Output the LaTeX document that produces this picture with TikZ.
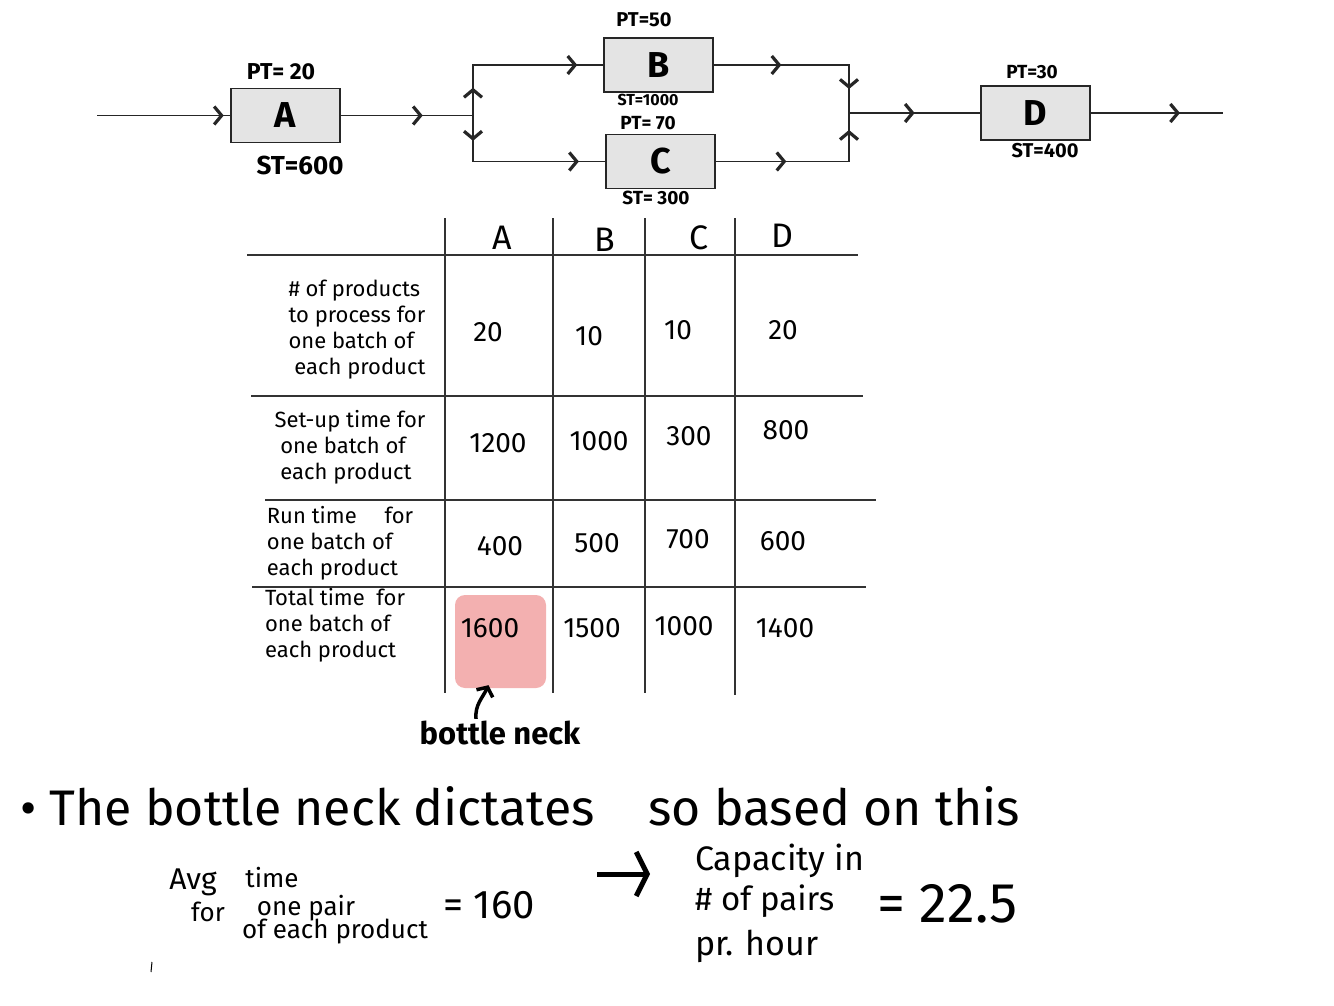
\documentclass[tikz,border=0pt]{standalone}
\usepackage{fontspec}
\setmainfont{Fira Sans}
\usetikzlibrary{arrows.meta,decorations.markings,calc}
\definecolor{hlpink}{RGB}{243,176,176}
\definecolor{boxgray}{RGB}{228,228,228}
\begin{document}
\begin{tikzpicture}[x=1pt,y=-1pt,
  proc/.style={draw=black!85,line width=1.3pt,fill=boxgray,minimum width=109pt,minimum height=54pt,inner sep=0pt,font=\fontsize{36}{40}\selectfont\bfseries},
  wire/.style={line width=1.2pt,draw=black!85,line cap=rect},
  chev/.style={postaction={decorate},decoration={markings,mark=at position #1 with {\arrow{Straight Barb[length=7.5pt,width=18pt,line width=3.2pt]}}}},
  lbl/.style={inner sep=0pt,font=\fontsize{20}{22}\selectfont\bfseries},
  slbl/.style={inner sep=0pt,font=\fontsize{19}{21}\selectfont\bfseries},
  tline/.style={line width=1.1pt,draw=black!80},
  head/.style={inner sep=0pt,font=\fontsize{34}{36}\selectfont},
  rowlbl/.style={inner sep=0pt,align=left,font=\fontsize{22}{26}\selectfont},
  val/.style={inner sep=0pt,font=\fontsize{28}{30}\selectfont},
  note/.style={inner sep=0pt,font=\fontsize{26}{28}\selectfont},
  big/.style={inner sep=0pt,anchor=base west,font=\fontsize{50}{54}\selectfont},
]
\useasboundingbox[fill=white] (0,0) rectangle (1334,1006);

% ---------- process flow ----------
\node[proc] (A) at (285.5,115.5) {A};
\node[proc] (B) at (658.5,65) {B};
\node[proc] (C) at (660.5,161.5) {C};
\node[proc] (D) at (1035.5,113) {D};

\node[lbl,font=\fontsize{23}{25}\selectfont\bfseries] (ptA) at (281,72) {PT= 20};
\node[lbl,font=\fontsize{26}{28}\selectfont\bfseries] (stA) at (300,165) {ST=600};
\node[slbl,font=\fontsize{20}{22}\selectfont\bfseries] (ptB) at (644,20) {PT=50};
\node[slbl,font=\fontsize{16}{18}\selectfont\bfseries] (stB) at (648,100) {ST=1000};
\node[slbl] (ptC) at (648,123) {PT= 70};
\node[slbl] (stC) at (656,198) {ST= 300};
\node[slbl] (ptD) at (1032,72) {PT=30};
\node[slbl,font=\fontsize{20}{22}\selectfont\bfseries] (stD) at (1045,151) {ST=400};

\coordinate (in) at (98,115.5);
\coordinate (split) at (473,115.5);
\coordinate (splitT) at (473,65);
\coordinate (splitB) at (473,161.5);
\coordinate (merge) at (849,113);
\coordinate (mergeT) at (849,65);
\coordinate (mergeB) at (849,161.5);
\coordinate (out) at (1222,113);

\draw[wire,chev=0.95] (in) -- (A.west);
\draw[wire,chev=0.62] (A.east) -- (split);
\draw[wire,chev=0.55] (split) -- (splitT);
\draw[wire,chev=0.55] (split) -- (splitB);
\draw[wire,chev=0.8] (splitT) -- (B.west);
\draw[wire,chev=0.8] (splitB) -- (C.west);
\draw[wire,chev=0.5] (B.east) -- (mergeT);
\draw[wire,chev=0.53] (C.east) -- (mergeB);
\draw[wire,chev=0.5] (mergeT) -- (merge);
\draw[wire,chev=0.65] (mergeB) -- (merge);
\draw[wire,chev=0.5] (merge) -- (D.west);
\draw[wire,chev=0.68] (D.east) -- (out);

% ---------- table ----------
\node[fill=hlpink,rounded corners=10pt,minimum width=91pt,minimum height=93pt,inner sep=0pt] (hl) at (500.5,641.5) {};

\draw[tline] (445,218) -- (445,693);
\draw[tline] (553,218) -- (553,693);
\draw[tline] (645,218) -- (645,693);
\draw[tline] (735,218) -- (735,695);
\draw[tline] (247,255) -- (858,255);
\draw[tline] (251,396) -- (863,396);
\draw[tline] (265,500) -- (876,500);
\draw[tline] (252,587) -- (866,587);

\node[head] (hA) at (502,238) {A};
\node[head] (hB) at (605,240) {B};
\node[head] (hC) at (699,238) {C};
\node[head] (hD) at (782,236) {D};

\node[rowlbl] (r1) at (357,330) {\# of products\\to process for\\one batch of\\\ each product};
\node[rowlbl] (r2) at (350,447) {Set-up time for\\\ one batch of\\\ each product};
\node[rowlbl] (r3) at (340,543) {Run time \quad for\\one batch of\\each product};
\node[rowlbl] (r4) at (335,625) {Total time \ for\\one batch of\\each product};

\node[val] (v11) at (488,332) {20};
\node[val] (v12) at (589,336) {10};
\node[val] (v13) at (678,330) {10};
\node[val] (v14) at (783,330) {20};
\node[val] (v21) at (498,443) {1200};
\node[val] (v22) at (599,441) {1000};
\node[val] (v23) at (689,436) {300};
\node[val] (v24) at (786,430) {800};
\node[val] (v31) at (500,546) {400};
\node[val] (v32) at (597,543) {500};
\node[val] (v33) at (688,539) {700};
\node[val] (v34) at (783,541) {600};
\node[val] (v41) at (490,628) {1600};
\node[val] (v42) at (592,628) {1500};
\node[val] (v43) at (684,626) {1000};
\node[val] (v44) at (785,628) {1400};

\node[inner sep=0pt,font=\fontsize{31}{33}\selectfont\bfseries] (bn) at (500,733) {bottle neck};
\draw[line width=3.5pt,-{Straight Barb[length=7pt,width=18pt]}] ($(bn.north)+(-24,-2)$) to[out=95,in=-115] ($(hl.south)+(-12,-3)$);

% ---------- bottom text ----------
\node[big] (t1) at (20,825) {• The bottle neck dictates};
\node[big] (t2) at (648,825) {so based on this};

\node[note,font=\fontsize{30}{32}\selectfont] (avg) at (193,882) {Avg};
\node[note] (time) at (272,878) {time};
\node[note] (for) at (208,912) {for};
\node[note] (pair) at (306,908) {one pair};
\node[note] (each) at (335,932) {of each product};
\node[inner sep=0pt,anchor=base west,font=\fontsize{40}{42}\selectfont] (eq1) at (443,918) {= 160};

\coordinate (arS) at (597,874);
\coordinate (arE) at (650,874);
\draw[line width=5pt,-{Straight Barb[length=11pt,width=44pt,line width=5pt]}] (arS) -- (arE);

\node[inner sep=0pt,anchor=base west,font=\fontsize{34}{36}\selectfont] (cap) at (695,870) {Capacity in};
\node[inner sep=0pt,anchor=base west,font=\fontsize{33}{35}\selectfont] (pairs) at (695,910) {\# of pairs};
\node[inner sep=0pt,anchor=base west,font=\fontsize{34}{36}\selectfont] (hour) at (695,955) {pr. hour};
\node[inner sep=0pt,anchor=base west,font=\fontsize{56}{58}\selectfont] (eq2) at (877,922) {= 22.5};

\coordinate (tickT) at (152,962);
\coordinate (tickB) at (151,972);
\draw[line width=1pt] (tickT) -- (tickB);
\end{tikzpicture}
\end{document}
